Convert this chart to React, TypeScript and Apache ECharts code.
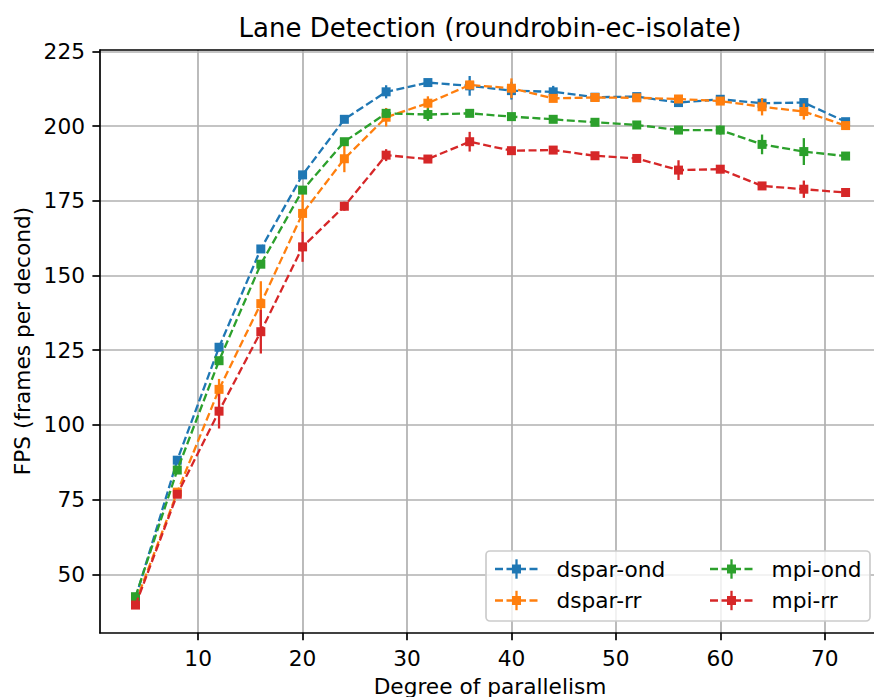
import React, { useEffect, useRef } from "react";
import * as echarts from "echarts";

const parallelism = [4, 8, 12, 16, 20, 24, 28, 32, 36, 40, 44, 48, 52, 56, 60, 64, 68, 72];

const dsparOnd = [42.0, 88.2, 126.0, 158.9, 183.7, 202.3, 211.5, 214.6, 213.5, 211.9, 211.5, 209.7, 209.9, 207.9, 209.0, 207.7, 207.9, 201.5];
const dsparOndErr = [0.5, 1.0, 1.0, 1.0, 1.0, 0.8, 2.2, 1.0, 3.3, 3.0, 2.0, 1.0, 1.0, 1.0, 1.0, 1.2, 1.5, 1.0];
const dsparRr = [40.5, 77.5, 111.9, 140.6, 170.8, 189.1, 203.0, 207.7, 213.8, 212.7, 209.3, 209.6, 209.5, 209.1, 208.4, 206.5, 204.9, 200.2];
const dsparRrErr = [0.5, 1.0, 3.5, 7.5, 6.5, 4.5, 3.1, 2.3, 1.5, 3.3, 1.0, 1.0, 1.0, 1.0, 1.0, 2.9, 2.7, 1.0];
const mpiOnd = [42.5, 84.9, 121.5, 153.8, 178.6, 194.8, 204.3, 203.9, 204.3, 203.2, 202.3, 201.3, 200.4, 198.7, 198.7, 193.9, 191.5, 190.0];
const mpiOndErr = [0.5, 1.0, 1.0, 1.0, 1.0, 1.0, 1.5, 2.1, 1.0, 1.0, 1.0, 1.0, 1.0, 1.0, 1.5, 3.3, 4.5, 1.2];
const mpiRr = [39.7, 76.8, 104.6, 131.2, 159.6, 173.2, 190.3, 189.0, 194.8, 191.8, 192.0, 190.1, 189.2, 185.3, 185.6, 180.0, 178.9, 177.8];
const mpiRrErr = [0.5, 1.0, 5.8, 7.3, 5.0, 1.5, 2.0, 1.0, 3.3, 1.0, 1.0, 1.0, 1.0, 3.3, 1.0, 1.0, 2.9, 1.0];

const seriesNames = ["dspar-ond", "dspar-rr", "mpi-ond", "mpi-rr"];
const seriesColors = ["#1f77b4", "#ff7f0e", "#2ca02c", "#d62728"];
const seriesValues = [dsparOnd, dsparRr, mpiOnd, mpiRr];
const seriesErrors = [dsparOndErr, dsparRrErr, mpiOndErr, mpiRrErr];

const xTicks = [10, 20, 30, 40, 50, 60, 70];
const yTicks = [50, 75, 100, 125, 150, 175, 200, 225];

const titleText = "Lane Detection (roundrobin-ec-isolate)";
const xLabel = "Degree of parallelism";
const yLabel = "FPS (frames per decond)";

const FONT = "DejaVu Sans";
const FS = 21.7;
const LW = 2.3;
const DASH = [8, 3.5];
const MS = 9;

export default function App() {
  const ref = useRef<HTMLDivElement>(null);
  useEffect(() => {
    const chart = echarts.init(ref.current!, null, { renderer: "svg" });

    const series: any[] = [];
    seriesNames.forEach((name, i) => {
      const color = seriesColors[i];
      const vals = seriesValues[i];
      const errs = seriesErrors[i];
      series.push({
        type: "custom",
        name: name + "-err",
        silent: true,
        z: 3 + i * 2,
        encode: { x: 0, y: [1, 2] },
        data: parallelism.map((x, k) => [x, vals[k] - errs[k], vals[k] + errs[k]]),
        renderItem: (params: any, api: any) => {
          const p1 = api.coord([api.value(0), api.value(1)]);
          const p2 = api.coord([api.value(0), api.value(2)]);
          return {
            type: "line",
            shape: { x1: p1[0], y1: p1[1], x2: p2[0], y2: p2[1] },
            style: { stroke: color, lineWidth: LW },
          };
        },
      });
      series.push({
        type: "line",
        name,
        z: 4 + i * 2,
        data: parallelism.map((x, k) => [x, vals[k]]),
        symbol: "rect",
        symbolSize: MS,
        showSymbol: true,
        showAllSymbol: true,
        itemStyle: { color },
        lineStyle: { color, width: LW, type: DASH },
        silent: true,
      });
    });

    // Legend (drawn as graphics)
    const legendBox = { x: 486, y: 551, w: 384, h: 70 };
    const rows = [569, 600.5];
    const cols = [495, 710];
    const legendGraphics: any[] = [
      {
        type: "rect",
        shape: { x: legendBox.x, y: legendBox.y, width: legendBox.w, height: legendBox.h, r: 4 },
        style: { fill: "rgba(255,255,255,0.8)", stroke: "#cccccc", lineWidth: 1.7 },
        z: 100,
      },
    ];
    seriesNames.forEach((name, i) => {
      const cx = cols[Math.floor(i / 2)];
      const cy = rows[i % 2];
      const color = seriesColors[i];
      const mid = cx + 21.5;
      legendGraphics.push(
        {
          type: "line",
          shape: { x1: cx, y1: cy, x2: cx + 43, y2: cy },
          style: { stroke: color, lineWidth: LW, lineDash: DASH },
          z: 101,
        },
        {
          type: "line",
          shape: { x1: mid, y1: cy - 9.7, x2: mid, y2: cy + 9.7 },
          style: { stroke: color, lineWidth: LW },
          z: 102,
        },
        {
          type: "rect",
          shape: { x: mid - MS / 2, y: cy - MS / 2, width: MS, height: MS },
          style: { fill: color },
          z: 103,
        },
        {
          type: "text",
          x: cx + 61.5,
          y: cy,
          style: { text: name, fontFamily: FONT, fontSize: FS, fill: "#000", verticalAlign: "middle", align: "left" },
          z: 104,
        }
      );
    });

    const option: any = {
      animation: false,
      backgroundColor: "#ffffff",
      grid: { left: 100, top: 50, right: 0, bottom: 64.3, containLabel: false },
      xAxis: [
        {
          type: "value",
          min: 0.6,
          max: 74.72,
          axisLine: { show: true, onZero: false, lineStyle: { color: "#000", width: 1.7 } },
          axisTick: { show: true, length: 7.6, lineStyle: { color: "#000", width: 1.7 }, customValues: xTicks },
          axisLabel: { customValues: xTicks, margin: 15, color: "#000", fontSize: FS, fontFamily: FONT },
          splitLine: { show: true, lineStyle: { color: "#b0b0b0", width: 1.7 } },
        },
        {
          type: "value",
          position: "top",
          min: 0.6,
          max: 74.72,
          axisLine: { show: true, onZero: false, lineStyle: { color: "#000", width: 1.7 } },
          axisTick: { show: false },
          axisLabel: { show: false },
          splitLine: { show: false },
        },
      ],
      yAxis: {
        type: "value",
        min: 30.45,
        max: 225.5,
        axisLine: { show: true, onZero: false, lineStyle: { color: "#000", width: 1.7 } },
        axisTick: { show: true, length: 7.6, lineStyle: { color: "#000", width: 1.7 }, customValues: yTicks },
        axisLabel: { customValues: yTicks, margin: 15, color: "#000", fontSize: FS, fontFamily: FONT },
        splitLine: { show: true, lineStyle: { color: "#b0b0b0", width: 1.7 } },
      },
      series,
      graphic: [
        {
          type: "text",
          x: 490,
          y: 28,
          style: { text: titleText, fontFamily: FONT, fontSize: 26, fill: "#000", align: "center", verticalAlign: "middle" },
        },
        {
          type: "text",
          x: 490,
          y: 686,
          style: { text: xLabel, fontFamily: FONT, fontSize: FS, fill: "#000", align: "center", verticalAlign: "middle" },
        },
        {
          type: "text",
          x: 22,
          y: 341,
          rotation: Math.PI / 2,
          style: { text: yLabel, fontFamily: FONT, fontSize: FS, fill: "#000", align: "center", verticalAlign: "middle" },
        },
        ...legendGraphics,
      ],
    };
    chart.setOption(option);
    return () => chart.dispose();
  }, []);
  return <div ref={ref} style={{ position: "absolute", left: 0, top: 0, width: 874, height: 697 }} />;
}
